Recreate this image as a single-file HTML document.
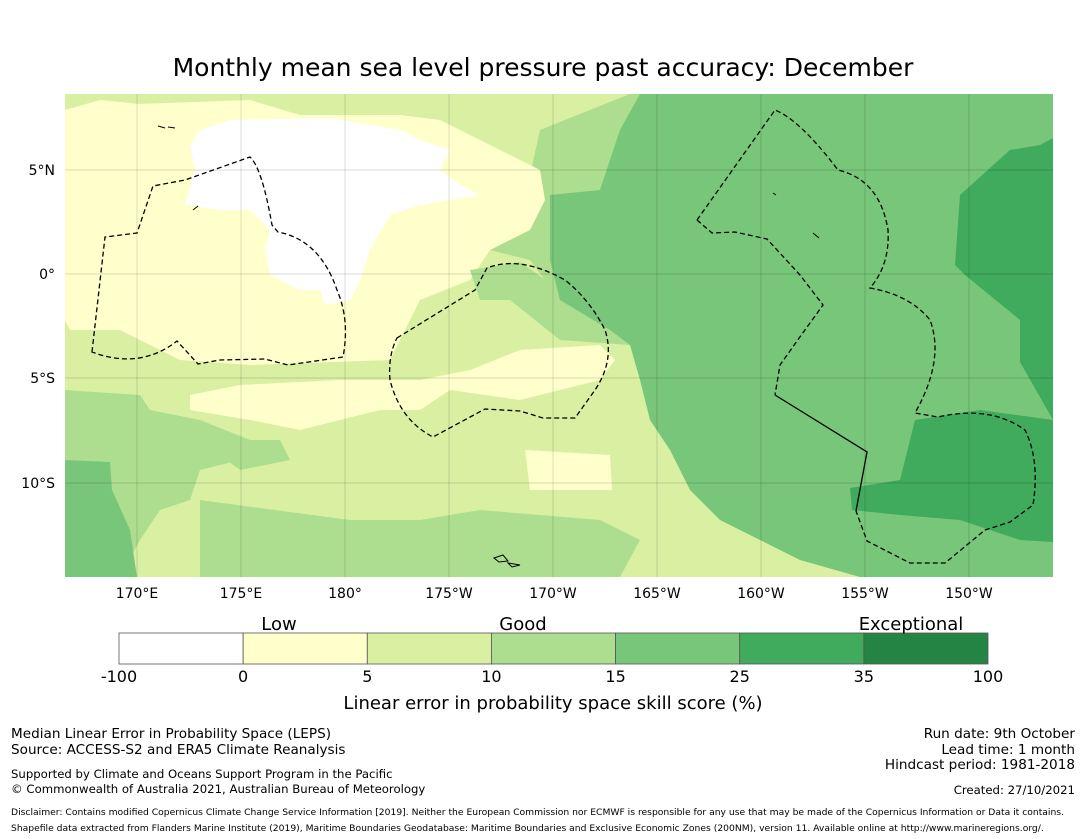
<!DOCTYPE html>
<html><head><meta charset="utf-8"><style>
body{margin:0;background:#fff;width:1085px;height:839px;overflow:hidden;font-family:"Liberation Sans","DejaVu Sans",sans-serif;}
svg{position:absolute;left:0;top:0}
</style></head><body>
<svg width="1085" height="839" font-family="DejaVu Sans, Liberation Sans, sans-serif">
<text x="543" y="76" font-size="25" text-anchor="middle">Monthly mean sea level pressure past accuracy: December</text>
<defs><clipPath id="mc"><rect x="65" y="94" width="988" height="483"/></clipPath></defs>
<g clip-path="url(#mc)">
<rect x="65" y="94" width="988" height="483" fill="#d9f0a3"/>
<polygon fill="#addd8e" points="540,130 630,94 640,94 630,300 560,300 530,260 490,250 520,220"/>
<polygon fill="#ffffcc" points="65,110 100,100 140,104 250,100 300,115 400,115 440,120 480,140 520,160 540,170 545,200 530,230 490,250 470,280 420,300 400,340 390,360 250,365 180,360 120,330 70,330 65,320"/>
<polygon fill="#ffffcc" points="190,395 240,385 340,380 420,380 470,370 520,350 600,345 615,360 600,380 560,390 520,400 450,390 420,410 380,410 340,420 300,430 250,420 190,410"/>
<polygon fill="#ffffcc" points="525,450 610,455 612,490 530,490"/>
<polygon fill="#ffffff" points="200,130 230,120 330,118 400,130 420,140 450,150 440,170 460,185 480,195 450,200 420,205 390,215 370,250 360,280 350,300 325,305 320,290 300,290 270,275 265,250 270,230 250,210 220,210 185,205 195,170 190,145"/>
<polygon fill="#addd8e" points="65,390 140,395 150,410 200,420 250,440 240,460 200,470 190,500 160,510 140,540 120,577 65,577"/>
<polygon fill="#addd8e" points="200,440 280,440 290,460 240,470"/>
<polygon fill="#addd8e" points="200,500 350,520 420,520 480,510 600,520 640,540 620,577 200,577"/>
<polygon fill="#addd8e" points="470,270 520,262 560,290 620,320 630,345 560,340 510,300 480,300"/>
<polygon fill="#78c679" points="550,195 600,190 620,130 640,94 1053,94 1053,577 860,577 800,560 760,540 720,520 690,490 670,450 650,420 640,380 630,345 610,330 560,300 550,260"/>
<polygon fill="#78c679" points="65,460 110,462 112,490 130,530 137,577 65,577"/>
<polygon fill="#41ab5d" points="960,195 1010,150 1040,145 1053,138 1053,420 1020,362 1020,320 965,275 955,265"/>
<polygon fill="#41ab5d" points="850,488 900,480 915,420 980,410 1053,420 1053,542 1020,540 960,520 900,515 852,510"/>
<g stroke="#000" stroke-opacity="0.2" stroke-width="0.7">
<line x1="137" y1="94" x2="137" y2="577"/><line x1="241" y1="94" x2="241" y2="577"/><line x1="345" y1="94" x2="345" y2="577"/><line x1="449" y1="94" x2="449" y2="577"/><line x1="553" y1="94" x2="553" y2="577"/><line x1="657" y1="94" x2="657" y2="577"/><line x1="761" y1="94" x2="761" y2="577"/><line x1="865" y1="94" x2="865" y2="577"/><line x1="969" y1="94" x2="969" y2="577"/>
<line x1="65" y1="170" x2="1053" y2="170"/><line x1="65" y1="274" x2="1053" y2="274"/><line x1="65" y1="378" x2="1053" y2="378"/><line x1="65" y1="483" x2="1053" y2="483"/>
</g>
<g fill="none" stroke="#000" stroke-width="1.3" stroke-dasharray="5,3">
<path d="M92,352 L105,237 L137,233 L153,186 L185,180 L250,157 Q262,168 272,225 L278,232 Q320,240 337,290 Q350,320 343,357 L288,365 L265,359 L220,360 L198,364 L177,341 Q140,370 92,352 Z"/>
<path d="M397,338 L475,290 L487,268 Q520,255 565,280 Q590,300 605,330 Q615,360 595,390 L575,418 L543,418 L520,411 L485,409 L433,437 Q400,420 390,380 Q388,355 397,338 Z"/>
<path d="M697,220 L775,110 Q800,120 838,170 Q880,180 888,230 Q890,265 870,288 Q910,295 930,320 Q945,360 915,413 L938,417 Q990,405 1025,430 Q1040,460 1033,505 L1010,522 L985,530 L945,563 L910,563 L867,541 L856,511"/>
<path d="M697,220 L712,233 L735,232 L767,239 L800,275 L823,305 L797,341 L780,365 L775,395" />
</g>
<path d="M775,395 L867,452 L856,511" fill="none" stroke="#000" stroke-width="1.3"/>
<g fill="none" stroke="#000" stroke-width="1">
<path d="M494,558 L503,555 L508,561 L499,562 Z M508,563 L520,565 L512,567 Z"/>
<path d="M158,126 L165,128 M168,127 L175,128 M193,210 L198,206 M773,193 L776,195 M813,233 L819,238"/>
</g>
</g>
<g font-size="14" text-anchor="middle">
<text x="137" y="598">170°E</text><text x="241" y="598">175°E</text><text x="345" y="598">180°</text><text x="449" y="598">175°W</text><text x="553" y="598">170°W</text><text x="657" y="598">165°W</text><text x="761" y="598">160°W</text><text x="865" y="598">155°W</text><text x="969" y="598">150°W</text>
</g>
<g font-size="14" text-anchor="end">
<text x="55" y="175">5°N</text><text x="55" y="279">0°</text><text x="55" y="383">5°S</text><text x="55" y="488">10°S</text>
</g>
<g id="cbar"></g>
<g font-size="18" text-anchor="middle">
<text x="279" y="630">Low</text><text x="523" y="630">Good</text><text x="911" y="630">Exceptional</text>
</g>
<text x="553" y="709" font-size="18" text-anchor="middle">Linear error in probability space skill score (%)</text>
<g font-size="13.6">
<text x="11" y="738">Median Linear Error in Probability Space (LEPS)</text>
<text x="11" y="754">Source: ACCESS-S2 and ERA5 Climate Reanalysis</text>
<text x="11" y="778" font-size="11.7">Supported by Climate and Oceans Support Program in the Pacific</text>
<text x="11" y="793" font-size="11.7">© Commonwealth of Australia 2021, Australian Bureau of Meteorology</text>
</g>
<g font-size="13.6" text-anchor="end">
<text x="1075" y="738">Run date: 9th October</text>
<text x="1075" y="754">Lead time: 1 month</text>
<text x="1075" y="769">Hindcast period: 1981-2018</text>
<text x="1075" y="794" font-size="11.7">Created: 27/10/2021</text>
</g>
<g font-size="9.2">
<text x="11" y="815">Disclaimer: Contains modified Copernicus Climate Change Service Information [2019]. Neither the European Commission nor ECMWF is responsible for any use that may be made of the Copernicus Information or Data it contains.</text>
<text x="11" y="831">Shapefile data extracted from Flanders Marine Institute (2019), Maritime Boundaries Geodatabase: Maritime Boundaries and Exclusive Economic Zones (200NM), version 11. Available online at http://www.marineregions.org/.</text>
</g>
</svg>
<script>
const cbTicks = ["-100","0","5","10","15","25","35","100"];
const cbColors = ["#ffffff","#ffffcc","#d9f0a3","#addd8e","#78c679","#41ab5d","#238443"];
const g = document.getElementById('cbar');
const NS = 'http://www.w3.org/2000/svg';
const x0 = 119, x1 = 988, y = 633, h = 31;
const step = (x1 - x0) / cbColors.length;
cbColors.forEach((c, i) => {
  const r = document.createElementNS(NS, 'rect');
  r.setAttribute('x', x0 + i * step); r.setAttribute('y', y);
  r.setAttribute('width', step); r.setAttribute('height', h);
  r.setAttribute('fill', c); r.setAttribute('stroke', '#555'); r.setAttribute('stroke-width', '0.8');
  
  
  g.appendChild(r);
});
cbTicks.forEach((t, i) => {
  const tx = document.createElementNS(NS, 'text');
  tx.setAttribute('x', x0 + i * step); tx.setAttribute('y', 682);
  tx.setAttribute('font-size', '16'); tx.setAttribute('text-anchor', 'middle');
  tx.textContent = t;
  
  
  g.appendChild(tx);
});
</script>
</body></html>
